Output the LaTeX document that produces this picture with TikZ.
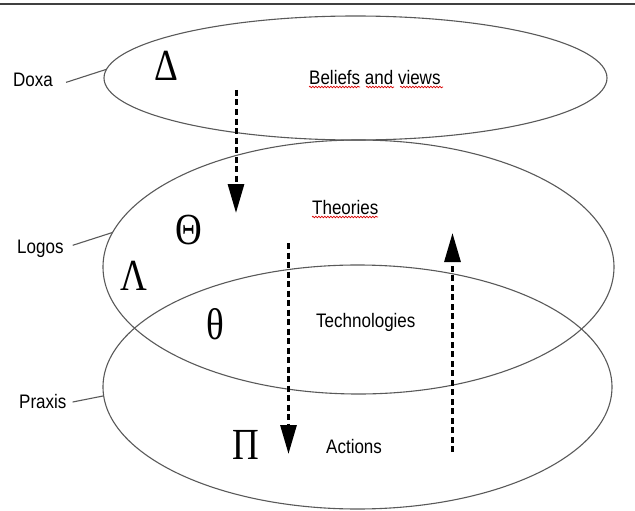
\documentclass[tikz,border=0pt]{standalone}
\usepackage{fontspec}
\setmainfont{Liberation Sans}
\newfontfamily\grkfont{Liberation Serif}
\usepackage{graphicx}
\usetikzlibrary{shapes.geometric,arrows.meta,decorations.pathmorphing}
\newcommand\ystr[1]{\scalebox{1}[1.15]{#1}}
\newcommand\gstr[1]{\scalebox{1}[1.2]{#1}}
\begin{document}
\begin{tikzpicture}[x=1pt,y=-1pt,
  lyr/.style={ellipse, draw=black!65, line width=1.1pt, inner sep=0pt, outer sep=0pt},
  lbl/.style={inner sep=0pt, font=\fontsize{17}{20}\selectfont, anchor=base west},
  grk/.style={inner sep=0pt, font=\grkfont\fontsize{37}{40}\selectfont},
  lead/.style={draw=black!65, line width=1.1pt},
  flow/.style={line width=3pt, dash pattern=on 6pt off 3.5pt, -{Triangle[length=29pt,width=16pt]}},
  spell/.style={draw=red!85!black, line width=0.7pt, decorate, decoration={snake, segment length=3pt, amplitude=0.8pt}}
]
\useasboundingbox (0,0) rectangle (635,511);
\draw[black!75, line width=1.5pt] (0,4) -- (635,4);

% layers
\node[lyr, minimum width=503pt, minimum height=124pt] (doxaE) at (355.5,78) {};
\node[lyr, minimum width=511pt, minimum height=254pt] (logosE) at (358.5,267) {};
\node[lyr, minimum width=509pt, minimum height=244pt] (praxisE) at (357.5,387) {};

% side labels
\node[lbl] (doxaL) at (13,86.5) {\ystr{Doxa}};
\node[lbl] (logosL) at (17,253) {\ystr{Logos}};
\node[lbl] (praxisL) at (19,408) {\ystr{Praxis}};
\draw[lead] ([xshift=13pt,yshift=-2.5pt]doxaL.east) -- (doxaE.178);
\draw[lead] ([xshift=9pt,yshift=3pt]logosL.east) -- (logosE.172);
\draw[lead] ([xshift=6pt,yshift=-1pt]praxisL.east) -- (praxisE.182);

% inner texts
\node[lbl] (beliefs) at (309,84.5) {\ystr{Beliefs and views}};
\node[lbl] (theories) at (312,214.5) {\ystr{Theories}};
\node[lbl] (techs) at (316,327) {\ystr{Technologies}};
\node[lbl] (actions) at (326,453) {\ystr{Actions}};

% spelling marks
\draw[spell] ([yshift=-2.5pt]beliefs.base west) -- ++(51,0);
\draw[spell] ([xshift=57pt,yshift=-2.5pt]beliefs.base west) -- ++(28,0);
\draw[spell] ([xshift=91pt,yshift=-2.5pt]beliefs.base west) -- ++(43,0);
\draw[spell] ([yshift=-2.5pt]theories.base west) -- ++(66,0);

% greek letters
\node[grk] (delta) at (166,65.5) {\gstr{Δ}};
\node[grk] (bigtheta) at (188.5,230) {\gstr{Θ}};
\node[grk] (lambda) at (133.5,276) {\gstr{Λ}};
\node[grk] (smalltheta) at (215,324) {\gstr{θ}};
\node[grk] (bigpi) at (245.5,445) {\gstr{Π}};

% flows
\coordinate (a1s) at (236,90);
\coordinate (a1e) at (236,213);
\coordinate (a2s) at (288.5,243);
\coordinate (a2e) at (288.5,454);
\coordinate (a3s) at (452.5,452);
\coordinate (a3e) at (452.5,233);
\draw[flow] (a1s) -- (a1e);
\draw[flow] (a2s) -- (a2e);
\draw[flow] (a3s) -- (a3e);
\end{tikzpicture}
\end{document}
